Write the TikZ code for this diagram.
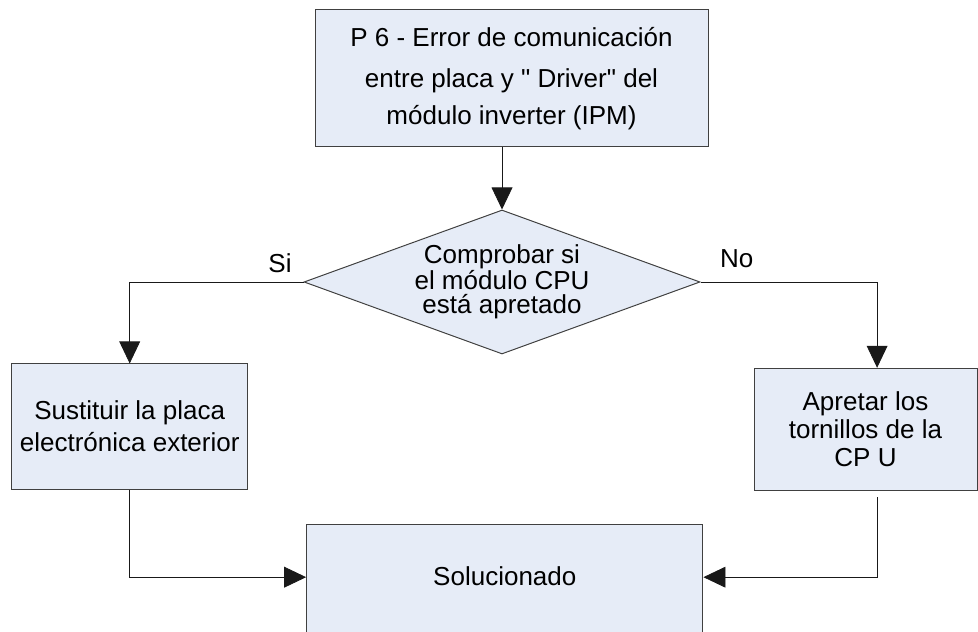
\documentclass[tikz,border=0pt]{standalone}
\usepackage{fontspec}
\setmainfont{Liberation Sans}
\newfontfamily\plainquote{Liberation Sans}
\usetikzlibrary{shapes.geometric,arrows.meta}

\begin{document}
\begin{tikzpicture}[
    process/.style={draw=black!75, fill=BoxFill, line width=0.7pt, align=center, inner sep=0pt},
    decision/.style={diamond, draw=black!75, fill=BoxFill, line width=0.7pt, align=center,
        aspect=2.75, inner sep=0pt, minimum width=9.9cm, minimum height=3.6cm},
    answer/.style={inner sep=0pt},
    flow/.style={draw=black!90, line width=0.6pt, -{Triangle[length=0.55cm, width=0.52cm]}},
]
    \definecolor{BoxFill}{RGB}{230,236,247}
    \useasboundingbox (0,0) rectangle (24.45,15.8);

    % Start
    \node[process, minimum width=9.825cm, minimum height=3.425cm,
        font=\fontsize{18.5pt}{26.3pt}\selectfont] (error) at (12.7875,13.8375)
        {\raisebox{0.1cm}{P 6 - Error de comunicación}\\ entre placa y {\plainquote"} Driver{\plainquote"} del\\ módulo inverter (IPM)};

    % Check
    \node[decision, font=\fontsize{18.5pt}{17.1pt}\selectfont] (check) at (12.55,8.75)
        {Comprobar si\\ el módulo CPU\\ está apretado};

    % Branches
    \node[process, minimum width=5.9cm, minimum height=3.1325cm,
        font=\fontsize{18.5pt}{22.8pt}\selectfont] (replace) at (3.2425,5.134)
        {Sustituir la placa\\ electrónica exterior};
    \node[process, minimum width=5.575cm, minimum height=3.06cm,
        font=\fontsize{18.5pt}{19.9pt}\selectfont] (tighten) at (21.6375,5.0625)
        {Apretar los\\ tornillos de la\\ CP U};

    % End
    \node[process, anchor=north, minimum width=9.9075cm, text height=1.52cm, text depth=1.5cm,
        font=\fontsize{18.5pt}{22pt}\selectfont] (solved) at (12.62,2.6925) {Solucionado};

    \node[answer, font=\fontsize{18.5pt}{22pt}\selectfont] (si) at (7.0,9.2125) {Si};
    \node[answer, font=\fontsize{18.5pt}{22pt}\selectfont] (no) at (18.4175,9.3325) {No};

    \draw[flow] (check.north |- error.south) -- (check.north);
    \draw[flow] (check.west) -| (replace.north);
    \draw[flow] (check.east) -| ([xshift=0.29cm]tighten.north);
    \draw[flow] (replace.south) |- ([yshift=0.2cm]solved.west);
    \draw[flow] ([xshift=0.29cm, yshift=-0.15cm]tighten.south) |- ([yshift=0.2cm]solved.east);
\end{tikzpicture}
\end{document}
